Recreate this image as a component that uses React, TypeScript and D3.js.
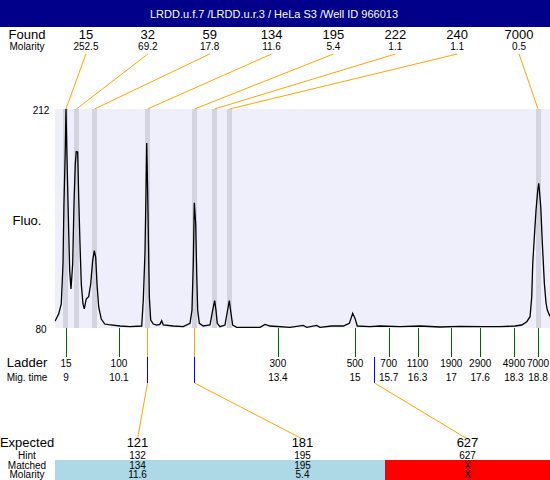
import React from "react";
import * as d3 from "d3";

const title = "LRDD.u.f.7 /LRDD.u.r.3 / HeLa S3 /Well ID 966013";

const foundSizes = ["15", "32", "59", "134", "195", "222", "240", "7000"];
const foundMolarity = ["252.5", "69.2", "17.8", "11.6", "5.4", "1.1", "1.1", "0.5"];
const foundTimes = [9.0, 9.218, 9.592, 10.692, 11.668, 12.083, 12.395, 18.8];

const ladderSizes = ["15", "100", "300", "500", "700", "1100", "1900", "2900", "4900", "7000"];
const ladderTimes = [9, 10.1, 13.4, 15, 15.7, 16.3, 17, 17.6, 18.3, 18.8];

const expectedSizes = ["121", "181", "627"];
const hintSizes = ["132", "195", "627"];
const matchedSizes = ["134", "195", "X"];
const matchedMolarity = ["11.6", "5.4", "X"];
const expectedTimes = [10.692, 11.668, 15.395];
const expectedMatched = [true, true, false];

const traceTime = [
  8.772, 8.778, 8.848, 8.902, 8.938, 8.958, 8.985, 9.0, 9.027, 9.056, 9.077, 9.104,
  9.139, 9.166, 9.193, 9.214, 9.243, 9.264, 9.291, 9.318, 9.353, 9.38, 9.421, 9.471,
  9.513, 9.554, 9.588, 9.617, 9.644, 9.679, 9.733, 9.804, 9.887, 10.121, 10.329, 10.572,
  10.605, 10.64, 10.661, 10.676, 10.696, 10.717, 10.73, 10.759, 10.813, 10.883, 10.95,
  10.987, 11.02, 11.228, 11.435, 11.575, 11.616, 11.643, 11.664, 11.693, 11.714, 11.734,
  11.768, 11.851, 11.99, 12.046, 12.087, 12.114, 12.141, 12.197, 12.301, 12.349, 12.391,
  12.426, 12.461, 12.544, 13.028, 13.132, 13.236, 13.651, 13.927, 13.998, 14.205, 14.274,
  14.517, 14.758, 14.883, 14.953, 15.001, 15.048, 15.312, 15.52, 15.935, 16.35, 16.765,
  17.181, 17.596, 18.011, 18.323, 18.462, 18.566, 18.635, 18.67, 18.691, 18.724, 18.759,
  18.795, 18.815, 18.828, 18.857, 18.89, 18.932, 18.967, 18.994, 19.036, 19.049,
];
const traceFluo = [
  84.4, 84.4, 88.4, 94.5, 118.6, 154.7, 186.9, 212, 174.8, 138.6, 114.5, 103.5,
  118.6, 154.7, 178.8, 186.3, 186.1, 159.0, 130.6, 106.5, 94.5, 91.5, 97.5, 98.9,
  106.5, 120.6, 126.6, 122.8, 106.5, 92.7, 85.4, 82.4, 82.0, 81.2, 80.8, 81.2,
  96.9, 125.2, 161.4, 191.5, 162.1, 123.0, 98.9, 84.8, 82.4, 81.8, 82.2,
  84.4, 81.8, 81.2, 80.8, 82.8, 90.8, 119.0, 155.5, 143.1, 113.0, 90.8,
  82.8, 81.2, 81.8, 90.8, 96.5, 90.8, 82.8, 80.8, 81.8, 89.8, 96.5,
  88.9, 81.8, 80.4, 80.4, 82.2, 81.2, 80.4, 81.6, 80.4, 81.6, 80.4,
  81.2, 81.2, 82.8, 88.9, 85.8, 81.2, 80.8, 81.2, 80.8, 81.2, 80.6,
  81.0, 80.8, 80.8, 81.2, 81.8, 83.8, 86.8, 98.9, 119.0, 135.0, 151.1,
  163.2, 167.2, 163.2, 153.1, 131.0, 106.9, 94.9, 90.8, 87.8, 87.0,
];

const yTicks = [212, 80];

const W = 550;
const H = 480;
const FONT = "'Liberation Sans', Arial, Helvetica, sans-serif";

export default function App() {
  const plot = { left: 55, right: 550, top: 109, bottom: 328 };
  const x = d3.scaleLinear().domain([8.772, 19.049]).range([plot.left, plot.right]);
  const y = d3.scaleLinear().domain([80, 212]).range([plot.bottom, plot.top]);
  const px = (t: number) => Math.round(x(t)) + 0.5;

  const foundCol = d3
    .scaleBand<number>()
    .domain(d3.range(foundSizes.length))
    .range([plot.left, plot.right]);
  const expCol = d3
    .scaleBand<number>()
    .domain(d3.range(expectedSizes.length))
    .range([plot.left, plot.right]);

  const trace = traceTime.map((t, i) => [t, traceFluo[i]] as [number, number]);
  const line = d3
    .line<[number, number]>()
    .x((d) => x(d[0]))
    .y((d) => y(d[1]));

  const labelX = 27;
  const tickBottom = 357;
  const blueBottom = 383;
  const expTop = 439;
  const rowTop = 460;

  return (
    <svg
      width={W}
      height={H}
      style={{ position: "absolute", left: 0, top: 0, fontFamily: FONT }}
    >
      <rect x={0} y={0} width={W} height={H} fill="#ffffff" />
      {/* title bar */}
      <rect x={0} y={0} width={W} height={27} fill="#00008B" />
      <text x={274} y={18} fill="#ffffff" fontSize={11} textAnchor="middle">
        {title}
      </text>

      {/* Found rows */}
      <text x={labelX} y={39} fontSize={13} textAnchor="middle">Found</text>
      <text x={labelX} y={50} fontSize={10} textAnchor="middle">Molarity</text>
      {foundSizes.map((s, i) => {
        const cx = (foundCol(i) as number) + foundCol.bandwidth() / 2;
        return (
          <g key={"f" + i}>
            <text x={cx} y={39} fontSize={13} textAnchor="middle">{s}</text>
            <text x={cx} y={50} fontSize={10} textAnchor="middle">{foundMolarity[i]}</text>
            <line
              x1={cx}
              y1={54}
              x2={x(foundTimes[i])}
              y2={plot.top}
              stroke="#FFA500"
              strokeWidth={1}
            />
          </g>
        );
      })}

      {/* plot area */}
      <rect
        x={plot.left}
        y={plot.top}
        width={plot.right - plot.left}
        height={plot.bottom - plot.top}
        fill="#EFEFFC"
      />
      {foundTimes.map((t, i) => (
        <rect
          key={"b" + i}
          x={Math.round(x(t) - 2.5)}
          y={plot.top}
          width={5}
          height={plot.bottom - plot.top}
          fill="#D4D4E1"
          shapeRendering="crispEdges"
        />
      ))}
      <path d={line(trace) || ""} fill="none" stroke="#000000" strokeWidth={1.3} />
      {yTicks.map((v) => (
        <text key={"y" + v} x={41} y={y(v) + 5} fontSize={10} textAnchor="middle">
          {v}
        </text>
      ))}
      <text x={labelX} y={225} fontSize={13} textAnchor="middle">Fluo.</text>

      {/* Ladder */}
      {ladderTimes.map((t, i) => (
        <g key={"l" + i}>
          <line
            x1={px(t)}
            y1={plot.bottom}
            x2={px(t)}
            y2={tickBottom}
            stroke="#006400"
            strokeWidth={1}
            shapeRendering="crispEdges"
          />
          <text x={x(t)} y={367} fontSize={10} textAnchor="middle">{ladderSizes[i]}</text>
          <text x={x(t)} y={381} fontSize={10} textAnchor="middle">{t}</text>
        </g>
      ))}
      <text x={labelX} y={367} fontSize={13} textAnchor="middle">Ladder</text>
      <text x={labelX} y={381} fontSize={10} textAnchor="middle">Mig. time</text>

      {/* Expected */}
      {expectedSizes.map((s, i) => {
        const cx = (expCol(i) as number) + expCol.bandwidth() / 2;
        const ex = px(expectedTimes[i]);
        return (
          <g key={"e" + i}>
            <rect
              x={expCol(i) as number}
              y={rowTop}
              width={expCol.bandwidth()}
              height={H - rowTop}
              fill={expectedMatched[i] ? "#ADD8E6" : "#FF0000"}
              shapeRendering="crispEdges"
            />
            {expectedMatched[i] && (
              <line x1={ex} y1={plot.bottom} x2={ex} y2={tickBottom} stroke="#FFA500" strokeWidth={1} shapeRendering="crispEdges" />
            )}
            <line x1={ex} y1={tickBottom} x2={ex} y2={blueBottom} stroke="#0000FF" strokeWidth={1} shapeRendering="crispEdges" />
            <line x1={ex} y1={blueBottom} x2={cx} y2={expTop} stroke="#FFA500" strokeWidth={1} />
            <text x={cx} y={447} fontSize={13} textAnchor="middle">{s}</text>
            <text x={cx} y={458.5} fontSize={10} textAnchor="middle">{hintSizes[i]}</text>
            <text x={cx} y={468.5} fontSize={10} textAnchor="middle">{matchedSizes[i]}</text>
            <text x={cx} y={478} fontSize={10} textAnchor="middle">{matchedMolarity[i]}</text>
          </g>
        );
      })}
      <text x={labelX} y={447} fontSize={13} textAnchor="middle">Expected</text>
      <text x={labelX} y={458.5} fontSize={10} textAnchor="middle">Hint</text>
      <text x={labelX} y={468.5} fontSize={10} textAnchor="middle">Matched</text>
      <text x={labelX} y={478} fontSize={10} textAnchor="middle">Molarity</text>
    </svg>
  );
}
